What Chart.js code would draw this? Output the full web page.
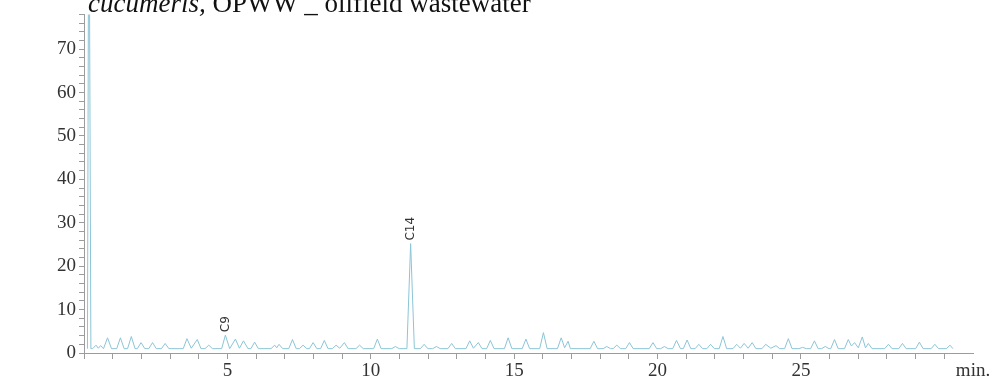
<!DOCTYPE html>
<html>
<head>
<meta charset="utf-8">
<script src="https://cdn.jsdelivr.net/npm/chart.js@4.4.0/dist/chart.umd.min.js"></script>
<style>
  body { margin: 0; background: #fff; }
  #wrap { position: relative; width: 996px; height: 383px; overflow: hidden; }
  #caption {
    position: absolute; left: 88px; top: -10px; white-space: nowrap;
    font-family: "Liberation Serif", serif; font-size: 27px; line-height: 27px; color: #111;
  }
</style>
</head>
<body>
<div id="wrap">
  <div id="caption"><i>cucumeris,</i> OPWW _ oilfield wastewater</div>
  <canvas id="myChart"></canvas>
</div>
<script>
// retention time (min) and detector signal
const retentionTimes = [
  0.12, 0.17, 0.24, 0.30, 0.42, 0.50, 0.58, 0.68, 0.82, 0.96,
  1.14, 1.27, 1.40, 1.52, 1.65, 1.78, 1.86, 1.99, 2.12, 2.26,
  2.39, 2.52, 2.70, 2.83, 2.96, 3.46, 3.59, 3.74, 3.95, 4.08,
  4.22, 4.35, 4.48, 4.80, 4.93, 5.08, 5.28, 5.42, 5.56, 5.72,
  5.82, 5.95, 6.08, 6.52, 6.65, 6.72, 6.80, 6.93, 7.14, 7.27,
  7.40, 7.51, 7.64, 7.77, 7.86, 7.99, 8.12, 8.25, 8.38, 8.51,
  8.66, 8.79, 8.92, 9.08, 9.21, 9.48, 9.61, 9.74, 10.10, 10.23,
  10.36, 10.73, 10.86, 10.99, 11.26, 11.39, 11.52, 11.73, 11.86, 11.99,
  12.16, 12.29, 12.42, 12.69, 12.82, 12.95, 13.32, 13.45, 13.58, 13.75,
  13.88, 14.04, 14.17, 14.30, 14.66, 14.79, 14.92, 15.28, 15.41, 15.54,
  15.89, 16.02, 16.15, 16.51, 16.64, 16.76, 16.88, 16.96, 17.65, 17.78,
  17.91, 18.10, 18.23, 18.36, 18.45, 18.58, 18.71, 18.89, 19.02, 19.15,
  19.71, 19.84, 19.97, 20.11, 20.24, 20.37, 20.53, 20.66, 20.80, 20.90,
  21.03, 21.16, 21.31, 21.44, 21.57, 21.72, 21.85, 21.98, 22.15, 22.28,
  22.41, 22.63, 22.76, 22.89, 23.02, 23.16, 23.30, 23.43, 23.64, 23.77,
  23.95, 24.13, 24.26, 24.43, 24.56, 24.69, 24.93, 25.06, 25.19, 25.34,
  25.47, 25.60, 25.72, 25.85, 25.98, 26.04, 26.17, 26.30, 26.52, 26.65,
  26.76, 26.87, 27.00, 27.14, 27.25, 27.35, 27.48, 27.92, 28.05, 28.18,
  28.41, 28.54, 28.67, 29.00, 29.13, 29.26, 29.54, 29.67, 29.80, 30.07,
  30.20, 30.30
];
const signal = [
  1.0, 120, 1.0, 1.0, 1.8, 1.1, 1.7, 1.0, 3.5, 1.0,
  1.0, 3.5, 1.0, 1.0, 3.8, 1.0, 1.0, 2.4, 1.0, 1.0,
  2.4, 1.0, 1.0, 2.2, 1.0, 1.0, 3.3, 1.1, 3.1, 1.0,
  1.0, 1.8, 1.0, 1.0, 4.1, 1.0, 3.2, 1.1, 2.8, 1.0,
  1.0, 2.5, 1.0, 1.0, 1.8, 1.2, 2.0, 1.0, 1.0, 3.1,
  1.0, 1.0, 1.8, 1.0, 1.0, 2.4, 1.0, 1.0, 2.9, 1.0,
  1.0, 1.8, 1.1, 2.4, 1.0, 1.0, 1.8, 1.0, 1.0, 3.2,
  1.0, 1.0, 1.5, 1.0, 1.0, 25.2, 1.0, 1.0, 2.0, 1.0,
  1.0, 1.5, 1.0, 1.0, 2.2, 1.0, 1.0, 2.8, 1.1, 2.4,
  1.0, 1.0, 2.9, 1.0, 1.0, 3.5, 1.0, 1.0, 3.2, 1.0,
  1.0, 4.7, 1.0, 1.0, 3.5, 1.2, 2.7, 1.0, 1.0, 2.7,
  1.0, 1.0, 1.5, 1.0, 1.0, 1.8, 1.0, 1.0, 2.4, 1.0,
  1.0, 2.4, 1.0, 1.0, 1.5, 1.0, 1.0, 2.9, 1.0, 1.0,
  3.0, 1.0, 1.0, 2.0, 1.0, 1.0, 2.0, 1.0, 1.0, 3.8,
  1.0, 1.0, 2.0, 1.1, 2.2, 1.1, 2.4, 1.0, 1.0, 2.0,
  1.1, 1.7, 1.0, 1.0, 3.3, 1.0, 1.0, 1.3, 1.0, 1.0,
  2.8, 1.0, 1.0, 1.5, 1.0, 1.0, 3.1, 1.0, 1.0, 3.1,
  1.6, 2.4, 1.2, 3.7, 1.2, 2.2, 1.0, 1.0, 2.0, 1.0,
  1.0, 2.2, 1.0, 1.0, 2.5, 1.0, 1.0, 2.0, 1.0, 1.0,
  1.8, 1.0
];
// labelled peaks
const peakNames = ['C9', 'C14'];
const peakTimes = [4.93, 11.39];
const peakHeights = [4.1, 25.2];

const labelTicks = [5, 10, 15, 20, 25];
const axisColor = '#9c9c9c';
const textColor = '#333';

const peakLabelPlugin = {
  id: 'peakLabels',
  afterDatasetsDraw(chart) {
    const ctx = chart.ctx;
    const xs = chart.scales.x;
    const ys = chart.scales.y;
    ctx.save();
    ctx.fillStyle = textColor;
    ctx.font = '12px "DejaVu Sans", sans-serif';
    ctx.textAlign = 'left';
    ctx.textBaseline = 'middle';
    for (let i = 0; i < peakNames.length; i++) {
      const px = xs.getPixelForValue(peakTimes[i]);
      const py = ys.getPixelForValue(peakHeights[i]);
      ctx.save();
      ctx.translate(px, py - 3);
      ctx.rotate(-Math.PI / 2);
      ctx.fillText(peakNames[i], 0, 0);
      ctx.restore();
    }
    ctx.restore();
  }
};

function renderChart() {
  const points = retentionTimes.map((t, i) => ({ x: t, y: signal[i] }));

  const data = {
    datasets: [{
      label: 'signal',
      data: points,
      borderColor: '#8cc5d6',
      borderWidth: 1,
      pointRadius: 0,
      tension: 0,
      fill: false
    }]
  };

  const options = {
    responsive: true,
    maintainAspectRatio: false,
    animation: false,
    layout: { padding: { top: 12, right: 23, left: 0, bottom: 0 } },
    plugins: {
      legend: { display: false },
      tooltip: { enabled: false }
    },
    scales: {
      x: {
        type: 'linear',
        min: 0,
        max: 31,
        afterFit(scale) { scale.height = 30; },
        border: { color: axisColor, width: 1 },
        grid: {
          drawOnChartArea: false,
          tickLength: 6,
          tickColor: (c) => (c.tick && c.tick.value === 31 ? 'rgba(0,0,0,0)' : axisColor)
        },
        ticks: {
          stepSize: 1,
          autoSkip: false,
          maxRotation: 0,
          padding: 1,
          color: textColor,
          font: { family: '"Liberation Serif", serif', size: 19 },
          callback: (v) => (v === 31 ? 'min.' : (labelTicks.includes(v) ? String(v) : ''))
        }
      },
      y: {
        min: 0,
        max: 78,
        afterFit(scale) { scale.width = 84; },
        border: { color: axisColor, width: 1 },
        grid: {
          drawOnChartArea: false,
          tickLength: 5,
          tickColor: axisColor
        },
        ticks: {
          stepSize: 2,
          autoSkip: false,
          padding: 3,
          color: textColor,
          font: { family: '"Liberation Serif", serif', size: 19 },
          callback: (v) => (v % 10 === 0 ? String(v) : '')
        }
      }
    }
  };

  const config = {
    type: 'line',
    data: data,
    options: options,
    plugins: [peakLabelPlugin]
  };

  const ctx = document.getElementById('myChart').getContext('2d');
  new Chart(ctx, config);
}

renderChart();
</script>
</body>
</html>
